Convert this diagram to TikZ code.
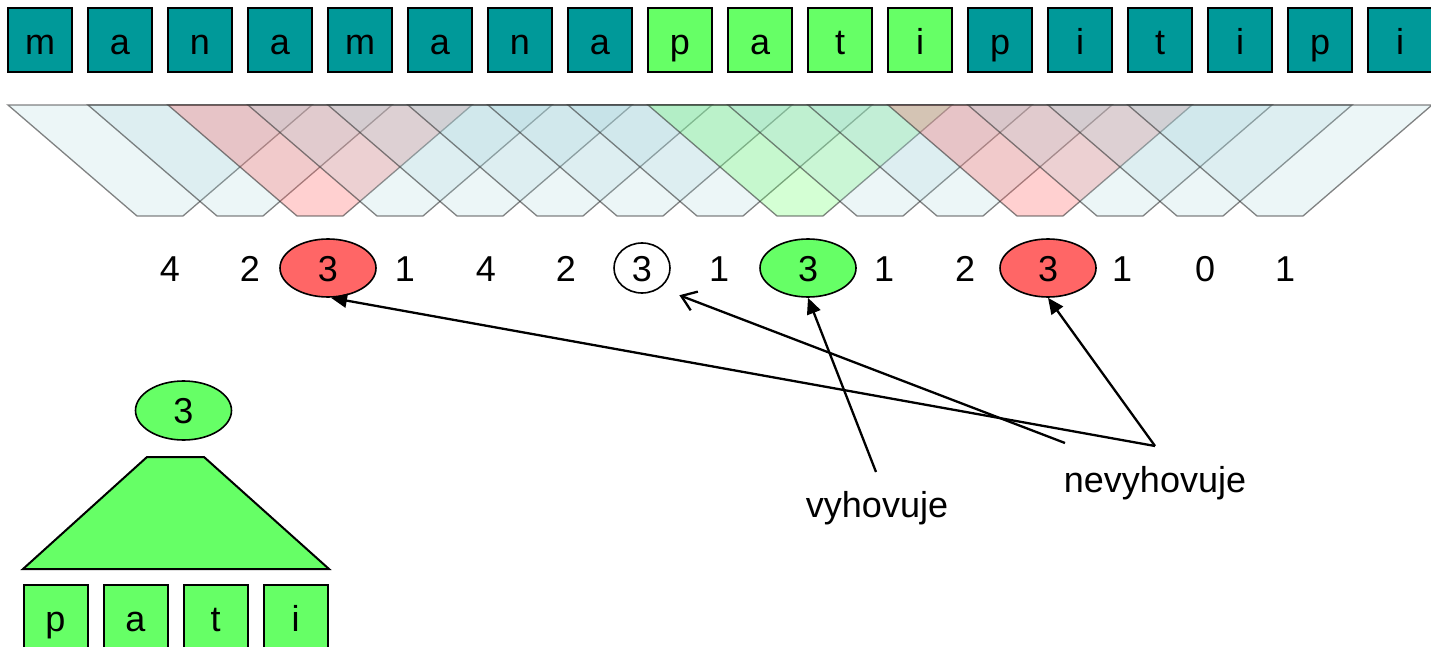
\documentclass[tikz,border=0pt]{standalone}
\usepackage{fontspec}
\setmainfont{Liberation Sans}
\usetikzlibrary{shapes.geometric,arrows.meta}
\definecolor{tealbox}{HTML}{009999}
\definecolor{greenf}{HTML}{66FF66}
\definecolor{redf}{HTML}{FF6666}
\definecolor{tealstripe}{HTML}{A3D2DA}
\newcommand\bigtxt{\fontsize{36}{40}\selectfont}
\begin{document}
\begin{tikzpicture}[x=1pt,y=-1pt,
  letterbox/.style={draw=black,line width=2pt,minimum width=64pt,minimum height=64pt,inner sep=0pt,font=\bigtxt,text height=29pt,text depth=0pt},
  numtxt/.style={inner sep=0pt,font=\bigtxt,text height=26pt,text depth=0pt},
  ell/.style={ellipse,draw=black,line width=1.6pt,inner sep=0pt,font=\bigtxt,text height=26pt,text depth=0pt},
  stripe/.style={draw=black!80,draw opacity=0.6,line width=1.3pt},
  lbl/.style={inner sep=0pt,font=\bigtxt},
  arr/.style={line width=2.3pt,-{Triangle[length=16pt,width=14pt]}},
  openarr/.style={line width=2.3pt,-{Straight Barb[length=14pt,width=20pt]}}]
\useasboundingbox (0,0) rectangle (1431,647);
\fill[white] (0,0) rectangle (1431,647);

% top letter boxes
\foreach \ch [count=\i from 0] in {m,a,n,a,m,a,n,a,p,a,t,i,p,i,t,i,p,i}{
  \ifnum\i>7 \ifnum\i<12 \def\fc{greenf}\else\def\fc{tealbox}\fi\else\def\fc{tealbox}\fi
  \node[letterbox,fill=\fc] (t\i) at (40+80*\i,40.5) {\ch};
}

% window stripes
\foreach \i/\sc/\so in {0/tealstripe/0.2,1/tealstripe/0.2,2/redf/0.3,3/tealstripe/0.2,4/tealstripe/0.2,
  5/tealstripe/0.2,6/tealstripe/0.2,7/tealstripe/0.2,8/greenf/0.28,9/tealstripe/0.2,10/tealstripe/0.2,
  11/redf/0.3,12/tealstripe/0.2,13/tealstripe/0.2,14/tealstripe/0.2}{
  \fill[\sc,fill opacity=\so] (8+80*\i,105) -- (312+80*\i,105) -- (183+80*\i,216) -- (137+80*\i,216) -- cycle;
  \draw[stripe] (8+80*\i,105) -- (312+80*\i,105) -- (183+80*\i,216) -- (137+80*\i,216) -- cycle;
}

% hash values
\node[numtxt] (n1) at (170,268) {4};
\node[numtxt] (n2) at (250,268) {2};
\node[ell,fill=redf,minimum width=96pt,minimum height=58pt] (e1) at (328,268) {3};
\node[numtxt] (n4) at (405,268) {1};
\node[numtxt] (n5) at (486,268) {4};
\node[numtxt] (n6) at (566,268) {2};
\node[ell,fill=white,minimum width=56pt,minimum height=50pt] (e2) at (642,268) {3};
\node[numtxt] (n8) at (719,268) {1};
\node[ell,fill=greenf,minimum width=96pt,minimum height=58pt] (e3) at (808,268) {3};
\node[numtxt] (n10) at (884,268) {1};
\node[numtxt] (n11) at (965,268) {2};
\node[ell,fill=redf,minimum width=96pt,minimum height=58pt] (e4) at (1048,268) {3};
\node[numtxt] (n13) at (1122,268) {1};
\node[numtxt] (n14) at (1205,268) {0};
\node[numtxt] (n15) at (1285,268) {1};

% labels and arrows
\node[lbl,anchor=base] (vy) at (877,517) {vyhovuje};
\node[lbl,anchor=base] (nv) at (1155,492) {nevyhovuje};
\coordinate (vys) at (876,472);
\coordinate (nvs) at (1155,446);
\coordinate (nvs2) at (1065,443);
\draw[arr] (vys) -- (e3.south);
\draw[arr] (nvs) -- (e4.south);
\draw[arr] (nvs) -- ([xshift=3pt]e1.south);
\draw[openarr] (nvs2) -- ([shift={(17,9)}]e2.south east);

% pattern pati
\node[ell,fill=greenf,minimum width=96pt,minimum height=59pt] (b3) at (183.5,410.5) {3};
\filldraw[fill=greenf,draw=black,line width=2pt] (147,457) -- (204,457) -- (329,569) -- (23,569) -- cycle;
\foreach \ch [count=\i from 0] in {p,a,t,i}{
  \node[letterbox,fill=greenf] (p\i) at (55.5+80*\i,616.5) {\ch};
}
\end{tikzpicture}
\end{document}
